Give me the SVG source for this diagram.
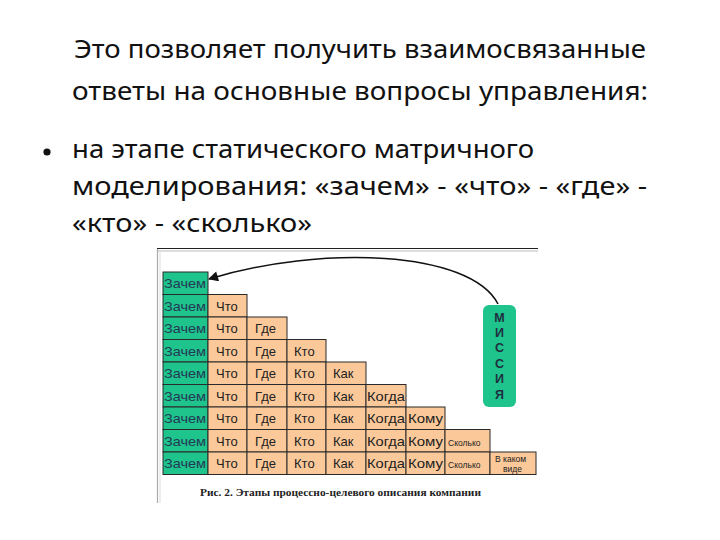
<svg xmlns="http://www.w3.org/2000/svg" width="720" height="540" viewBox="0 0 720 540">
<style>
.t{font-family:"Noto Sans","Open Sans",sans-serif;font-size:25px;fill:#111}
.g{fill:#1fc38c;stroke:#2a2a2a;stroke-width:1}
.o{fill:#fbc899;stroke:#2a2a2a;stroke-width:1}
.gt{font-family:"Liberation Sans",Arial,sans-serif;font-size:13px;fill:#233a55}
.ot{font-family:"Liberation Sans",Arial,sans-serif;font-size:13px;fill:#222}
.st{font-family:"Liberation Sans",Arial,sans-serif;font-size:8.5px;fill:#222}
.m{font-family:"Liberation Sans",Arial,sans-serif;font-size:12.5px;font-weight:bold;fill:#1e3040;text-anchor:middle}
.cap{font-family:"Liberation Serif","Times New Roman",serif;font-size:10px;font-weight:bold;fill:#222}
</style>
<defs>
<marker id="ah" viewBox="0 0 10 10" refX="9" refY="5" markerWidth="11" markerHeight="10" markerUnits="userSpaceOnUse" orient="auto"><path d="M0,0 L10,5 L0,10 z" fill="#111"/></marker>
</defs>
<rect width="720" height="540" fill="#fff"/>
<g id="title">
<text class="t" x="74" y="58" textLength="572" lengthAdjust="spacingAndGlyphs">Это позволяет получить взаимосвязанные</text>
<text class="t" x="72" y="100" textLength="576" lengthAdjust="spacingAndGlyphs">ответы на основные вопросы управления:</text>
</g>
<g id="bullet">
<circle cx="47" cy="152" r="3.6" fill="#111"/>
<text class="t" x="72" y="158" textLength="462" lengthAdjust="spacingAndGlyphs">на этапе статического матричного</text>
<text class="t" x="72" y="195" textLength="575" lengthAdjust="spacingAndGlyphs">моделирования: «зачем» - «что» - «где» -</text>
<text class="t" x="72" y="232" textLength="240" lengthAdjust="spacingAndGlyphs">«кто» - «сколько»</text>
</g>
<g id="frame">
<line x1="157" y1="248.5" x2="538" y2="248.5" stroke="#222" stroke-width="1.2"/>
<line x1="157" y1="251" x2="538" y2="251" stroke="#bbb" stroke-width="1.2"/>
<line x1="157.5" y1="249" x2="157.5" y2="503" stroke="#aaa" stroke-width="1.2"/>
<line x1="160" y1="251" x2="160" y2="503" stroke="#ddd" stroke-width="1"/>
</g>
<g id="r1"><rect class="g" x="163" y="272" width="45" height="22.5"/><text class="gt" x="164" y="288" textLength="42" lengthAdjust="spacingAndGlyphs">Зачем</text></g>
<g id="r2">
<g id="r2c1"><rect class="g" x="163" y="294.5" width="45" height="22.5"/><text class="gt" x="164" y="310.5" textLength="42" lengthAdjust="spacingAndGlyphs">Зачем</text></g>
<g id="r2c2"><rect class="o" x="208" y="294.5" width="39" height="22.5"/><text class="ot" x="216" y="310.5">Что</text></g>
</g>
<g id="r3">
<g id="r3c1"><rect class="g" x="163" y="317" width="45" height="22.5"/><text class="gt" x="164" y="333" textLength="42" lengthAdjust="spacingAndGlyphs">Зачем</text></g>
<g id="r3c2"><rect class="o" x="208" y="317" width="39" height="22.5"/><text class="ot" x="216" y="333">Что</text></g>
<g id="r3c3"><rect class="o" x="247" y="317" width="40" height="22.5"/><text class="ot" x="255" y="333">Где</text></g>
</g>
<g id="r4">
<g id="r4c1"><rect class="g" x="163" y="339.5" width="45" height="22.5"/><text class="gt" x="164" y="355.5" textLength="42" lengthAdjust="spacingAndGlyphs">Зачем</text></g>
<g id="r4c2"><rect class="o" x="208" y="339.5" width="39" height="22.5"/><text class="ot" x="216" y="355.5">Что</text></g>
<g id="r4c3"><rect class="o" x="247" y="339.5" width="40" height="22.5"/><text class="ot" x="255" y="355.5">Где</text></g>
<g id="r4c4"><rect class="o" x="287" y="339.5" width="39" height="22.5"/><text class="ot" x="294" y="355.5">Кто</text></g>
</g>
<g id="r5">
<g id="r5c1"><rect class="g" x="163" y="362" width="45" height="22.5"/><text class="gt" x="164" y="378" textLength="42" lengthAdjust="spacingAndGlyphs">Зачем</text></g>
<g id="r5c2"><rect class="o" x="208" y="362" width="39" height="22.5"/><text class="ot" x="216" y="378">Что</text></g>
<g id="r5c3"><rect class="o" x="247" y="362" width="40" height="22.5"/><text class="ot" x="255" y="378">Где</text></g>
<g id="r5c4"><rect class="o" x="287" y="362" width="39" height="22.5"/><text class="ot" x="294" y="378">Кто</text></g>
<g id="r5c5"><rect class="o" x="326" y="362" width="40" height="22.5"/><text class="ot" x="333" y="378">Как</text></g>
</g>
<g id="r6">
<g id="r6c1"><rect class="g" x="163" y="384.5" width="45" height="22.5"/><text class="gt" x="164" y="400.5" textLength="42" lengthAdjust="spacingAndGlyphs">Зачем</text></g>
<g id="r6c2"><rect class="o" x="208" y="384.5" width="39" height="22.5"/><text class="ot" x="216" y="400.5">Что</text></g>
<g id="r6c3"><rect class="o" x="247" y="384.5" width="40" height="22.5"/><text class="ot" x="255" y="400.5">Где</text></g>
<g id="r6c4"><rect class="o" x="287" y="384.5" width="39" height="22.5"/><text class="ot" x="294" y="400.5">Кто</text></g>
<g id="r6c5"><rect class="o" x="326" y="384.5" width="40" height="22.5"/><text class="ot" x="333" y="400.5">Как</text></g>
<g id="r6c6"><rect class="o" x="366" y="384.5" width="40" height="22.5"/><text class="ot" x="367" y="400.5" textLength="38" lengthAdjust="spacingAndGlyphs">Когда</text></g>
</g>
<g id="r7">
<g id="r7c1"><rect class="g" x="163" y="407" width="45" height="22.5"/><text class="gt" x="164" y="423" textLength="42" lengthAdjust="spacingAndGlyphs">Зачем</text></g>
<g id="r7c2"><rect class="o" x="208" y="407" width="39" height="22.5"/><text class="ot" x="216" y="423">Что</text></g>
<g id="r7c3"><rect class="o" x="247" y="407" width="40" height="22.5"/><text class="ot" x="255" y="423">Где</text></g>
<g id="r7c4"><rect class="o" x="287" y="407" width="39" height="22.5"/><text class="ot" x="294" y="423">Кто</text></g>
<g id="r7c5"><rect class="o" x="326" y="407" width="40" height="22.5"/><text class="ot" x="333" y="423">Как</text></g>
<g id="r7c6"><rect class="o" x="366" y="407" width="40" height="22.5"/><text class="ot" x="367" y="423" textLength="38" lengthAdjust="spacingAndGlyphs">Когда</text></g>
<g id="r7c7"><rect class="o" x="406" y="407" width="39" height="22.5"/><text class="ot" x="408" y="423" textLength="35" lengthAdjust="spacingAndGlyphs">Кому</text></g>
</g>
<g id="r8">
<g id="r8c1"><rect class="g" x="163" y="429.5" width="45" height="22.5"/><text class="gt" x="164" y="445.5" textLength="42" lengthAdjust="spacingAndGlyphs">Зачем</text></g>
<g id="r8c2"><rect class="o" x="208" y="429.5" width="39" height="22.5"/><text class="ot" x="216" y="445.5">Что</text></g>
<g id="r8c3"><rect class="o" x="247" y="429.5" width="40" height="22.5"/><text class="ot" x="255" y="445.5">Где</text></g>
<g id="r8c4"><rect class="o" x="287" y="429.5" width="39" height="22.5"/><text class="ot" x="294" y="445.5">Кто</text></g>
<g id="r8c5"><rect class="o" x="326" y="429.5" width="40" height="22.5"/><text class="ot" x="333" y="445.5">Как</text></g>
<g id="r8c6"><rect class="o" x="366" y="429.5" width="40" height="22.5"/><text class="ot" x="367" y="445.5" textLength="38" lengthAdjust="spacingAndGlyphs">Когда</text></g>
<g id="r8c7"><rect class="o" x="406" y="429.5" width="39" height="22.5"/><text class="ot" x="408" y="445.5" textLength="35" lengthAdjust="spacingAndGlyphs">Кому</text></g>
<g id="r8c8"><rect class="o" x="445" y="429.5" width="45" height="22.5"/><text class="st" x="448" y="445.5">Сколько</text></g>
</g>
<g id="r9">
<g id="r9c1"><rect class="g" x="163" y="452" width="45" height="22.5"/><text class="gt" x="164" y="468" textLength="42" lengthAdjust="spacingAndGlyphs">Зачем</text></g>
<g id="r9c2"><rect class="o" x="208" y="452" width="39" height="22.5"/><text class="ot" x="216" y="468">Что</text></g>
<g id="r9c3"><rect class="o" x="247" y="452" width="40" height="22.5"/><text class="ot" x="255" y="468">Где</text></g>
<g id="r9c4"><rect class="o" x="287" y="452" width="39" height="22.5"/><text class="ot" x="294" y="468">Кто</text></g>
<g id="r9c5"><rect class="o" x="326" y="452" width="40" height="22.5"/><text class="ot" x="333" y="468">Как</text></g>
<g id="r9c6"><rect class="o" x="366" y="452" width="40" height="22.5"/><text class="ot" x="367" y="468" textLength="38" lengthAdjust="spacingAndGlyphs">Когда</text></g>
<g id="r9c7"><rect class="o" x="406" y="452" width="39" height="22.5"/><text class="ot" x="408" y="468" textLength="35" lengthAdjust="spacingAndGlyphs">Кому</text></g>
<g id="r9c8"><rect class="o" x="445" y="452" width="45" height="22.5"/><text class="st" x="448" y="467.5">Сколько</text></g>
<g id="r9c9"><rect class="o" x="490" y="452" width="46" height="22.5"/><text class="st" x="495" y="462">В каком</text><text class="st" x="503" y="472">виде</text></g>
</g>
<g id="mission">
<rect x="483" y="305" width="33" height="102" rx="6" fill="#1fc38c"/>
<text class="m" x="499.5" y="322">М</text>
<text class="m" x="499.5" y="337">И</text>
<text class="m" x="499.5" y="352">С</text>
<text class="m" x="499.5" y="367.5">С</text>
<text class="m" x="499.5" y="383">И</text>
<text class="m" x="499.5" y="399">Я</text>
</g>
<g id="connectors">
<path d="M498,304 C470,250 320,245 209,279" fill="none" stroke="#111" stroke-width="1.6" marker-end="url(#ah)"/>
</g>
<g id="caption">
<text class="cap" x="200" y="496" textLength="281" lengthAdjust="spacingAndGlyphs">Рис. 2. Этапы процессно-целевого описания компании</text>
</g>
</svg>
